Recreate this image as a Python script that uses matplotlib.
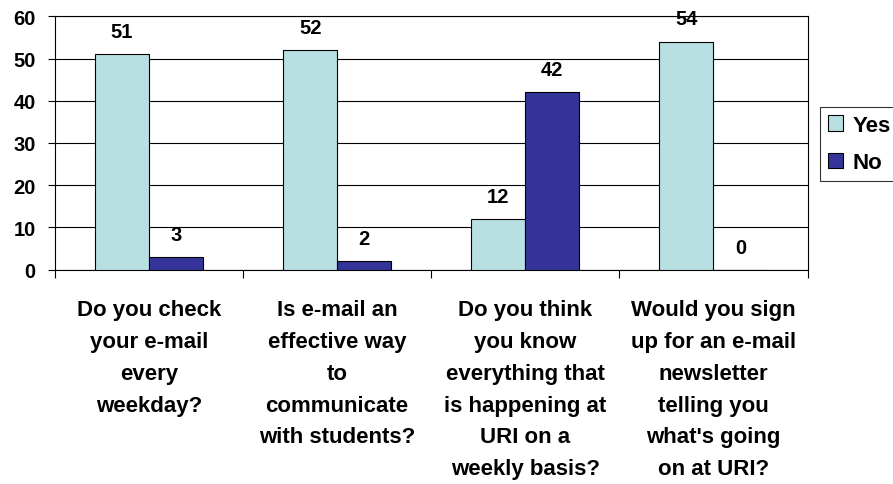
import numpy as np
import matplotlib
matplotlib.use('Agg')
import matplotlib.pyplot as plt
from matplotlib.patches import Patch

plt.rcParams['font.family'] = ['Liberation Sans', 'DejaVu Sans']
plt.rcParams['font.weight'] = 'bold'

# Survey data
questions = ['Do you check\nyour e-mail\nevery\nweekday?',
             'Is e-mail an\neffective way\nto\ncommunicate\nwith students?',
             'Do you think\nyou know\neverything that\nis happening at\nURI on a\nweekly basis?',
             'Would you sign\nup for an e-mail\nnewsletter\ntelling you\nwhat\'s going\non at URI?']
yes_counts = [51, 52, 12, 54]
no_counts = [3, 2, 42, 0]
yticks = [0, 10, 20, 30, 40, 50, 60]

yes_color = '#B8E0E2'
no_color = '#333399'

fig = plt.figure(figsize=(8.93, 4.85), dpi=100)
ax = fig.add_axes([55 / 893, 1 - 270.7 / 485, (807.5 - 55) / 893, (270.7 - 17.3) / 485])

x = np.arange(len(questions))
w = 0.287
bars_yes = ax.bar(x - w / 2, yes_counts, w, color=yes_color, edgecolor='black', linewidth=0.8, label='Yes', zorder=3)
bars_no = ax.bar(x + w / 2, no_counts, w, color=no_color, edgecolor='black', linewidth=0.8, label='No', zorder=3)

# value labels above bars
for bars in (bars_yes, bars_no):
    for b in bars:
        ax.annotate(f'{int(b.get_height())}', (b.get_x() + b.get_width() / 2, b.get_height()),
                    xytext=(0, 9.5), textcoords='offset points', ha='center', va='bottom',
                    fontsize=14.5, fontweight='bold')

ax.set_xlim(-0.5, 3.5)
ax.set_ylim(0, 60)
ax.set_yticks(yticks)
ax.set_yticklabels([str(t) for t in yticks], fontsize=14.5, fontweight='bold')
ax.tick_params(axis='y', length=5, width=0.8, pad=9, colors='black')
ax.set_xticks(np.arange(-0.5, 4, 1))
ax.set_xticklabels([])
ax.tick_params(axis='x', length=6, width=0.8, direction='out')
ax.yaxis.grid(True, color='black', linewidth=0.8, zorder=0)
for s in ax.spines.values():
    s.set_linewidth(0.8)
    s.set_color('black')

# category labels under the axis
for xi, q in zip(x, questions):
    ax.annotate(q, (xi, 0), xycoords=('data', 'axes fraction'), xytext=(0, -21),
                textcoords='offset points', ha='center', va='top',
                fontsize=16, fontweight='bold', linespacing=1.68)

handles = [Patch(facecolor=yes_color, edgecolor='black', linewidth=0.8, label='Yes'),
           Patch(facecolor=no_color, edgecolor='black', linewidth=0.8, label='No')]
leg = fig.legend(handles=handles, loc='upper left', bbox_to_anchor=(820 / 893, 1 - 108 / 485),
                 borderaxespad=0, handlelength=0.7, handleheight=0.7, handletextpad=0.4,
                 borderpad=0.35, labelspacing=0.75, fancybox=False, frameon=True,
                 prop={'weight': 'bold', 'size': 16})
leg.get_frame().set_edgecolor('black')
leg.get_frame().set_linewidth(0.8)

fig.savefig('out.png', dpi=100)
